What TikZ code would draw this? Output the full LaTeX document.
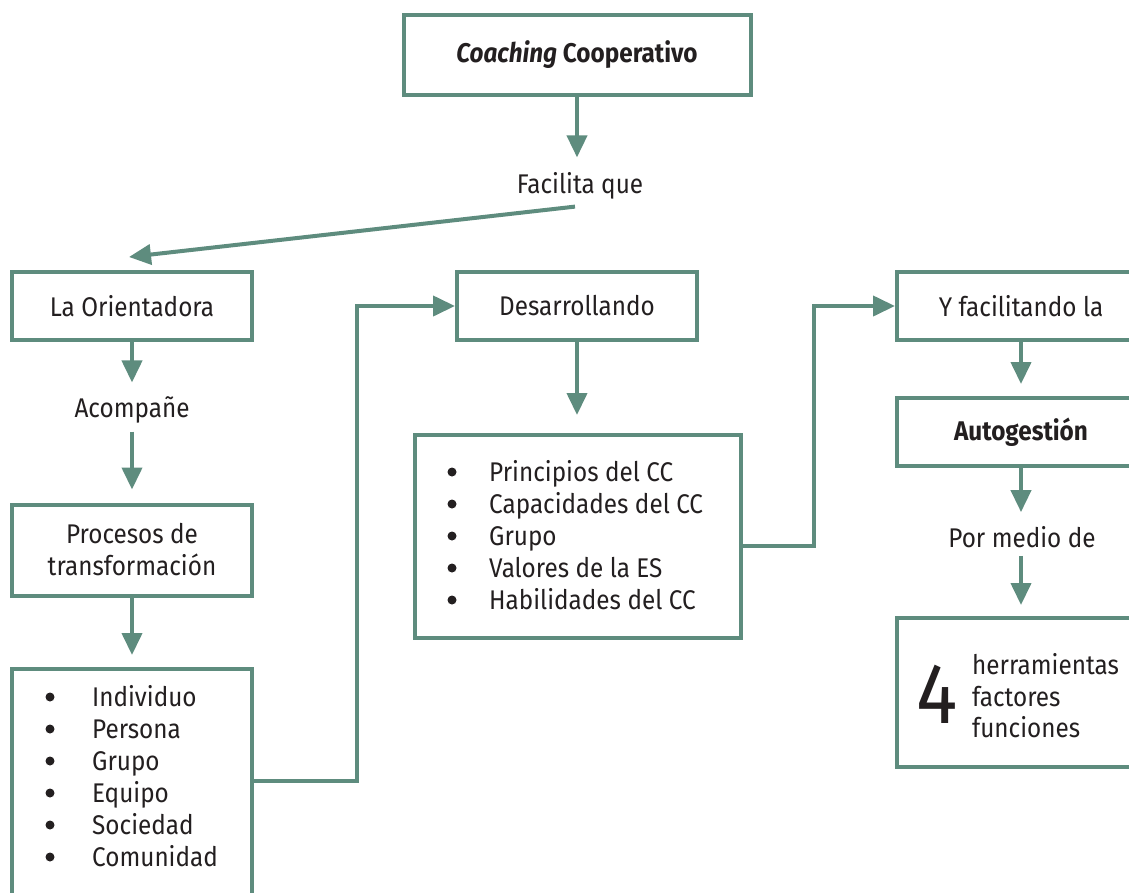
\documentclass[tikz,border=0pt]{standalone}
\usepackage{fontspec}
\setmainfont{Fira Sans}[FakeStretch=0.9]
\usetikzlibrary{arrows.meta,calc}
\definecolor{cc}{HTML}{5E8C7E}
\definecolor{txt}{HTML}{231F20}
\tikzset{
  box/.style={draw=cc, line width=4pt, fill=white, inner sep=0pt, align=center, text=txt, font=\fontsize{27}{32}\selectfont},
  lbl/.style={inner sep=0pt, text=txt, font=\fontsize{27}{32}\selectfont},
  bul/.style={circle, fill=txt, inner sep=0pt, minimum size=9pt},
  arr/.style={draw=cc, line width=4pt, -{Triangle[length=22pt,width=20pt]}},
}
\begin{document}
\begin{tikzpicture}[x=1pt,y=-1pt]
\useasboundingbox[fill=white] (0,0) rectangle (1129,892);
% boxes
\node[box, minimum width=347pt, minimum height=80pt] (coach) at (577,55) {\textbf{\textit{Coaching} Cooperativo}};
\node[lbl] (fac) at (580,186) {Facilita que};
\node[box, minimum width=240pt, minimum height=68pt] (ori) at (132,306) {La Orientadora};
\node[lbl] (aco) at (132,410) {Acompañe};
\node[box, minimum width=240pt, minimum height=91pt] (proc) at (132,550) {Procesos de\\transformación};
\node[box, minimum width=240pt, minimum height=232pt] (lst1) at (132,785) {};
\node[box, minimum width=240pt, minimum height=68pt] (des) at (577,306) {Desarrollando};
\node[box, minimum width=326pt, minimum height=203pt] (lst2) at (578,536.5) {};
\node[box, minimum width=248pt, minimum height=68pt] (yfac) at (1021,306) {Y facilitando la};
\node[box, minimum width=248pt, minimum height=68pt] (auto) at (1021,432) {\textbf{Autogestión}};
\node[lbl] (por) at (1022,537) {Por medio de};
\node[box, minimum width=248pt, minimum height=149pt] (herr) at (1021,692.5) {};
% list 1
\foreach \t [count=\i] in {Individuo,Persona,Grupo,Equipo,Sociedad,Comunidad}{
  \node[bul] (b1\i) at (50,{697+32*(\i-1)}) {};
  \node[lbl, anchor=base west] (t1\i) at (92,{706+32*(\i-1)}) {\t};
}
% list 2
\foreach \t [count=\i] in {Principios del CC,Capacidades del CC,Grupo,Valores de la ES,Habilidades del CC}{
  \node[bul] (b2\i) at (452,{472+32*(\i-1)}) {};
  \node[lbl, anchor=base west] (t2\i) at (489,{481+32*(\i-1)}) {\t};
}
% 4 herramientas
\node[lbl, anchor=base, font=\fontsize{86}{86}\selectfont] (four) at (937,723) {4};
\node[lbl, anchor=base west] (h1) at (972,674) {herramientas};
\node[lbl, anchor=base west] (h2) at (972,706) {factores};
\node[lbl, anchor=base west] (h3) at (972,737) {funciones};
% connectors
\draw[arr, shorten >=15pt] (coach.south) -- (coach.south |- fac.north);
\draw[arr] ([xshift=-5pt,yshift=-7pt]fac.south) -- ([xshift=-3pt,yshift=13pt]ori.north);
\draw[arr, shorten >=14pt] (ori.south) -- (aco.north);
\draw[arr, shorten <=8pt, shorten >=13pt] (aco.south) -- (proc.north);
\draw[arr, shorten >=12pt] (proc.south) -- (lst1.north);
\draw[arr] ([yshift=4pt]lst1.east) -- ++(103,0) |- (des.west);
\draw[arr, shorten >=18pt] (des.south) -- (des.south |- lst2.north);
\draw[arr] ([yshift=-9.5pt]lst2.east) -- ++(71,0) |- (yfac.west);
\draw[arr, shorten >=12pt] (yfac.south) -- (auto.north);
\draw[arr, shorten >=14pt] (auto.south) -- (auto.south |- por.north);
\draw[arr, shorten <=8pt, shorten >=11pt] (por.south -| auto.south) -- (herr.north);
\end{tikzpicture}
\end{document}
